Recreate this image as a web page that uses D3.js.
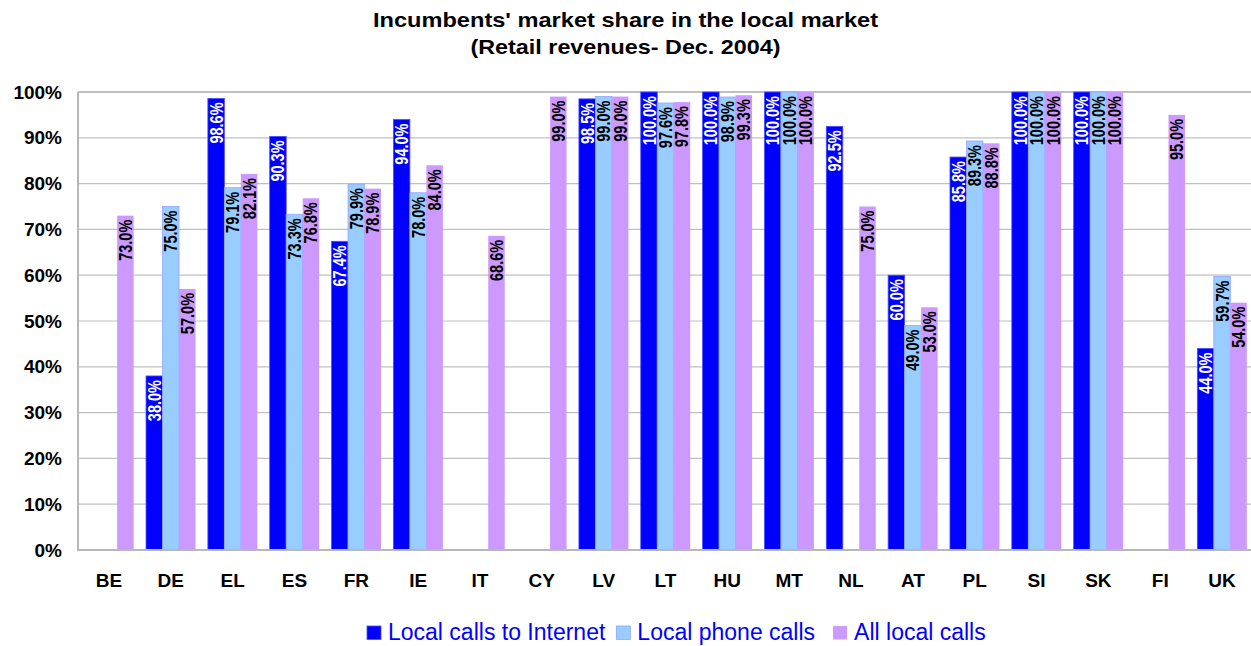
<!DOCTYPE html>
<html>
<head>
<meta charset="utf-8">
<script src="https://cdn.jsdelivr.net/npm/d3@7"></script>
<style>
  html, body { margin: 0; padding: 0; background: #fff; }
  svg { display: block; font-family: "Liberation Sans", Arial, sans-serif; }
</style>
</head>
<body>
<script>
// chart values
const categories = ["BE","DE","EL","ES","FR","IE","IT","CY","LV","LT","HU","MT","NL","AT","PL","SI","SK","FI","UK"];
const internetCalls = [null,38.0,98.6,90.3,67.4,94.0,null,null,98.5,100.0,100.0,100.0,92.5,60.0,85.8,100.0,100.0,null,44.0];
const phoneCalls    = [null,75.0,79.1,73.3,79.9,78.0,null,null,99.0,97.6,98.9,100.0,null,49.0,89.3,100.0,100.0,null,59.7];
const allLocalCalls = [73.0,57.0,82.1,76.8,78.9,84.0,68.6,99.0,99.0,97.8,99.3,100.0,75.0,53.0,88.8,100.0,100.0,95.0,54.0];
const seriesNames = ["Local calls to Internet","Local phone calls","All local calls"];
const yTicks = [0,10,20,30,40,50,60,70,80,90,100];
const titleLines = ["Incumbents' market share in the local market","(Retail revenues- Dec. 2004)"];

const W = 1251, H = 646;
const margin = {top: 92, left: 78, bottom: 96};
const plotRight = 1253;
const plotBottom = H - margin.bottom;

const colors = ["#0000ff","#99ccff","#cc99ff"];
const strokes = ["#4d4dff","#8fa6ff","none"];
const labelColors = ["#ffffff","#000000","#000000"];
const narrow = 0.83; // bar labels look like a narrow face
const titleWidths = [505, 310];

const series = [internetCalls, phoneCalls, allLocalCalls];

const svg = d3.select("body").append("svg")
  .attr("width", W).attr("height", H);

const x0 = d3.scaleBand().domain(categories)
  .range([margin.left, plotRight]).paddingInner(0.2).paddingOuter(0.1);
const x1 = d3.scaleBand().domain(d3.range(series.length))
  .range([0, x0.bandwidth()]);
const y = d3.scaleLinear().domain([0, 100]).range([plotBottom, margin.top]);

// title
svg.append("g").selectAll("text").data(titleLines).join("text")
  .attr("x", 625.5).attr("y", (d, i) => 27 + i * 26.5)
  .attr("text-anchor", "middle")
  .attr("textLength", (d, i) => titleWidths[i])
  .attr("lengthAdjust", "spacingAndGlyphs")
  .style("font-size", "21px").style("font-weight", "bold")
  .text(d => d);

// grid
svg.append("g").selectAll("line").data(yTicks.filter(t => t > 0)).join("line")
  .attr("x1", margin.left).attr("x2", W)
  .attr("y1", d => y(d)).attr("y2", d => y(d))
  .attr("stroke", "#c0c0c0")
  .attr("stroke-width", d => d === 100 ? 2 : 1.2);

// y axis
const yAxis = d3.axisLeft(y).tickValues(yTicks).tickSize(0).tickPadding(16)
  .tickFormat(d => d + "%");
const gy = svg.append("g").attr("transform", `translate(${margin.left},0)`).call(yAxis);
gy.select(".domain").remove();
gy.selectAll("text")
  .style("font-family", "'Liberation Sans', Arial, sans-serif")
  .style("font-size", "19px").style("font-weight", "bold").attr("fill", "#000");

// bars
const groups = svg.append("g").selectAll("g").data(categories).join("g")
  .attr("transform", d => `translate(${x0(d)},0)`);

const cells = groups.selectAll("g.cell")
  .data((c, ci) => series.map((s, si) => ({si, v: s[ci]})).filter(d => d.v != null))
  .join("g").attr("class", "cell");

cells.append("rect")
  .attr("x", d => x1(d.si))
  .attr("width", x1.bandwidth())
  .attr("y", d => y(d.v))
  .attr("height", d => plotBottom - y(d.v))
  .attr("fill", d => colors[d.si])
  .attr("stroke", d => strokes[d.si])
  .attr("stroke-width", 0.8);

cells.append("text")
  .attr("transform", d => `translate(${x1(d.si) + x1.bandwidth() / 2 + 6.5},${y(d.v) + 4}) rotate(-90)`)
  .attr("text-anchor", "end")
  .style("font-size", "17.5px").style("font-weight", "bold")
  .attr("fill", d => labelColors[d.si])
  .text(d => d.v.toFixed(1) + "%")
  .each(function() {
    const len = this.getComputedTextLength();
    d3.select(this).attr("textLength", len * narrow).attr("lengthAdjust", "spacingAndGlyphs");
  });

// axis lines
svg.append("line")
  .attr("x1", margin.left).attr("x2", margin.left)
  .attr("y1", margin.top).attr("y2", plotBottom)
  .attr("stroke", "#b8b8b8").attr("stroke-width", 2);
svg.append("line")
  .attr("x1", margin.left - 1).attr("x2", W)
  .attr("y1", plotBottom).attr("y2", plotBottom)
  .attr("stroke", "#b8b8b8").attr("stroke-width", 2);

// x labels
svg.append("g").selectAll("text").data(categories).join("text")
  .attr("x", d => x0(d) + x0.bandwidth() / 2)
  .attr("y", 587)
  .attr("text-anchor", "middle")
  .style("font-size", "19px").style("font-weight", "bold")
  .text(d => d);

// legend
const legend = svg.append("g");
let lx = 367;
const gaps = [11, 18, 0];
seriesNames.forEach((name, i) => {
  legend.append("rect")
    .attr("x", lx).attr("y", 626).attr("width", 14).attr("height", 13.5)
    .attr("fill", colors[i]).attr("stroke", strokes[i]).attr("stroke-width", 0.8);
  const t = legend.append("text")
    .attr("x", lx + 21).attr("y", 640)
    .style("font-size", "23px").attr("fill", "#0000ff")
    .text(name);
  const len = t.node().getComputedTextLength();
  lx = lx + 21 + len + gaps[i];
});
</script>
</body>
</html>
